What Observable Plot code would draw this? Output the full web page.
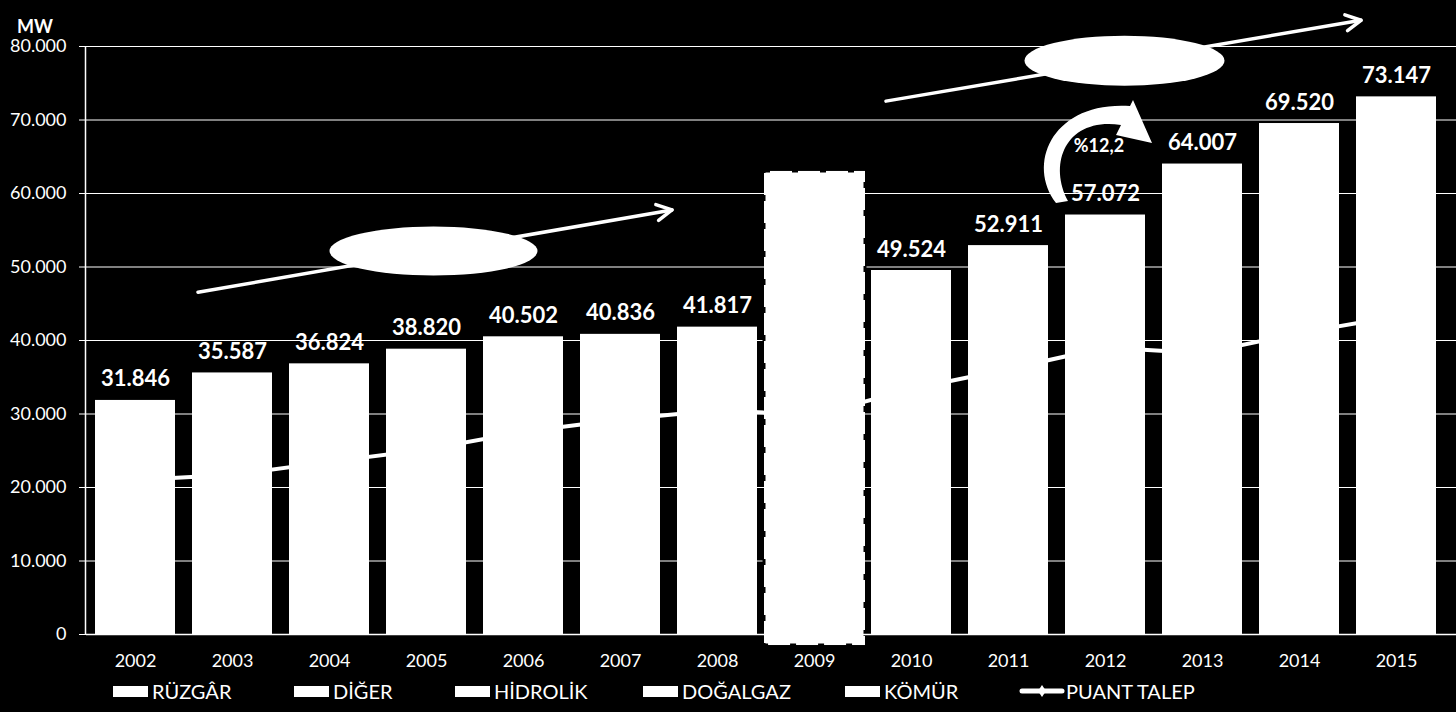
<!DOCTYPE html>
<html><head><meta charset="utf-8">
<script src="https://cdn.jsdelivr.net/npm/d3@7"></script>
<script src="https://cdn.jsdelivr.net/npm/@observablehq/plot@0.6"></script>
<style>
html,body{margin:0;padding:0;background:#000;}
#wrap{position:relative;width:1456px;height:712px;background:#000;font-family:Lato,sans-serif;color:#fff;overflow:hidden}
#chart svg{display:block}
#legend{position:absolute;left:0;top:673px;width:1456px;height:36px}
.li{position:absolute;top:0;height:36px;display:flex;align-items:center;font-size:20px;color:#fff;white-space:nowrap}
.sw{display:inline-block;width:35px;height:11px;background:#fff;margin-right:4px}
</style></head><body><div id="wrap"><div id="chart"></div><div id="legend"></div></div>
<script>
// ---- data ----
const years = ["2002","2003","2004","2005","2006","2007","2008","2009","2010","2011","2012","2013","2014","2015"];
const capacity = [31846, 35587, 36824, 38820, 40502, 40836, 41817, null, 49524, 52911, 57072, 64007, 69520, 73147];
const peakDemand = [21006, 21729, 23485, 25174, 27594, 29249, 30517, 29870, 33392, 36122, 39045, 38274, 41003, 43289];
const yTicks = [0, 10000, 20000, 30000, 40000, 50000, 60000, 70000, 80000];
const barSeries = ["RÜZGÂR", "DİĞER", "HİDROLİK", "DOĞALGAZ", "KÖMÜR"];
const lineSeries = "PUANT TALEP";
const highlightYear = "2009";
const highlightRange = [-1500, 63000];
const growthLabel = "%12,2";
const unitLabel = "MW";

const fmt = d => d3.format(",")(d).replace(/,/g, ".");
const data = years.map((year, i) => ({year, capacity: capacity[i], demand: peakDemand[i]}));
const bars = data.filter(d => d.capacity != null);

const xRange = [83, 1448];
const plot = Plot.plot({
  width: 1456, height: 676,
  marginTop: 46, marginBottom: 42, marginLeft: 86, marginRight: 0,
  style: {background: "#000", color: "#fff", fontFamily: "Lato, sans-serif", overflow: "visible"},
  x: {domain: years, range: xRange, paddingInner: 0.18, paddingOuter: 0.09, label: null},
  y: {domain: [0, 80000], label: null},
  marks: [
    Plot.ruleY(yTicks, {stroke: "#fff", strokeWidth: 1}),
    Plot.line(data, {x: "year", y: "demand", stroke: "#fff", strokeWidth: 4}),
    Plot.barY(bars, {x: "year", y: "capacity", fill: "#fff"}),
    Plot.barY([{year: highlightYear, lo: highlightRange[0], hi: highlightRange[1]}],
      {x: "year", y1: "lo", y2: "hi", fill: "#fff", stroke: "#000", strokeWidth: 3,
       strokeDasharray: "6,22", insetLeft: -10, insetRight: -11}),
    Plot.text(bars, {x: "year", y: "capacity", text: d => fmt(d.capacity), dy: -21,
      fill: "#fff", fontSize: 22, fontWeight: "bold", lineAnchor: "middle"}),
    Plot.axisY(yTicks, {tickFormat: fmt, tickSize: 7, tickPadding: 13, fontSize: 18, stroke: "#fff", label: null}),
    Plot.axisX({tickSize: 0, tickPadding: 20, fontSize: 18, label: null}),
    Plot.ruleY([0], {stroke: "#fff", strokeWidth: 1.5})
  ]
});
document.getElementById("chart").appendChild(plot);

// ---- annotations overlay (positioned through the plot's scales) ----
const xsc = plot.scale("x"), ysc = plot.scale("y");
const fbX = d3.scaleBand().domain(years).range(xRange).paddingInner(0.18).paddingOuter(0.09);
const fbY = d3.scaleLinear().domain([0, 80000]).range([634, 46]);
const bw = xsc.bandwidth != null ? xsc.bandwidth : fbX.bandwidth();
const X = (yr, dx = 0) => (xsc.apply ? xsc.apply(yr) : fbX(yr)) + bw / 2 + dx;
const Y = v => ysc.apply ? ysc.apply(v) : fbY(v);

const svg = d3.select(plot);
const g = svg.append("g");

// y axis line
g.append("line").attr("x1", 85.5).attr("x2", 85.5).attr("y1", Y(80000)).attr("y2", Y(0))
  .attr("stroke", "#fff").attr("stroke-width", 1.5);
// unit label
g.append("text").attr("x", 35).attr("y", 28).attr("text-anchor", "middle").attr("dominant-baseline", "middle")
  .attr("fill", "#fff").attr("font-size", 18).attr("font-weight", "bold").text(unitLabel);

function arrow(x1, y1, x2, y2) {
  g.append("line").attr("x1", x1).attr("y1", y1).attr("x2", x2).attr("y2", y2)
    .attr("stroke", "#fff").attr("stroke-width", 3.5).attr("stroke-linecap", "round");
  const dx = x2 - x1, dy = y2 - y1, L = Math.hypot(dx, dy);
  const ux = dx / L, uy = dy / L, nx = -uy, ny = ux;
  const a = 15, b = 8;
  g.append("path")
    .attr("d", `M${x2 - a*ux + b*nx},${y2 - a*uy + b*ny} L${x2},${y2} L${x2 - a*ux - b*nx},${y2 - a*uy - b*ny}`)
    .attr("fill", "none").attr("stroke", "#fff").attr("stroke-width", 3.5)
    .attr("stroke-linecap", "round").attr("stroke-linejoin", "round");
}
arrow(X("2002", 63), Y(46500), X("2008", -45), Y(57700));
arrow(X("2010", -25), Y(72500), X("2015", -35), Y(83500));

g.append("ellipse").attr("cx", X("2005", 7.5)).attr("cy", Y(52100)).attr("rx", 104).attr("ry", 24.5).attr("fill", "#fff");
g.append("ellipse").attr("cx", X("2012", 19.5)).attr("cy", Y(78000)).attr("rx", 100).attr("ry", 25).attr("fill", "#fff");

// curved growth arrow near 2012
const ax = X("2012", 3), ay = Y(60000);
const P = (dx, dy) => `${ax + dx},${ay + dy}`;
g.append("path")
  .attr("d", `M${P(-52,10)} C${P(-82,-30)} ${P(-55,-92)} ${P(22,-87)} L${P(25,-93)} L${P(44,-50)} L${P(8,-58)} L${P(13,-68)} C${P(-42,-76)} ${P(-60,-30)} ${P(-40,8)} Z`)
  .attr("fill", "#fff");
g.append("text").attr("x", X("2012", -6)).attr("y", Y(60000) - 46).attr("text-anchor", "middle")
  .attr("dominant-baseline", "middle").attr("fill", "#fff").attr("font-size", 18).attr("font-weight", "bold")
  .text(growthLabel);

// ---- legend ----
const legend = document.getElementById("legend");
const swLeft = [113, 294, 455, 643, 845];
barSeries.forEach((name, i) => {
  const d = document.createElement("div");
  d.className = "li"; d.style.left = swLeft[i] + "px";
  d.innerHTML = `<span class="sw"></span><span>${name}</span>`;
  legend.appendChild(d);
});
const dl = document.createElement("div");
dl.className = "li"; dl.style.left = "1019px";
dl.innerHTML = `<svg width="46" height="14" style="margin-right:1px"><line x1="3" y1="7" x2="43" y2="7" stroke="#fff" stroke-width="5" stroke-linecap="round"/><path d="M23,1 L27,7 L23,13 L19,7 Z" fill="#fff"/></svg><span>${lineSeries}</span>`;
legend.appendChild(dl);
</script></body></html>
